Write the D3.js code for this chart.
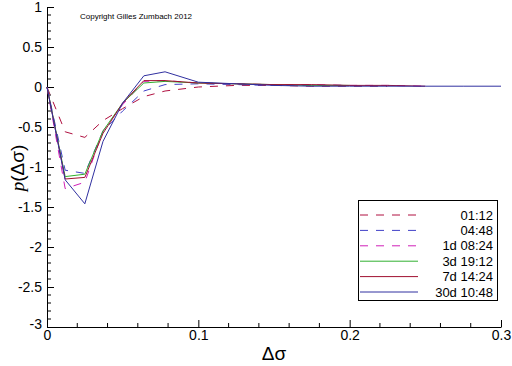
<!DOCTYPE html>
<html>
<head>
<meta charset="utf-8">
<script src="https://cdn.jsdelivr.net/npm/d3@7"></script>
<style>
body { margin: 0; background: #fff; }
text { font-family: Arial, "Liberation Sans", sans-serif; }
</style>
</head>
<body>
<div class="chart"></div>
<script>
// dsigma grid (x) shared by all series
const xs = [0, 0.012, 0.025, 0.037, 0.05, 0.064, 0.078, 0.1, 0.125, 0.15, 0.175, 0.2, 0.225, 0.25, 0.275, 0.3];

const labels = ['01:12', '04:48', '1d 08:24', '3d 19:12', '7d 14:24', '30d 10:48'];
const colors = ['#b01040', '#4040c8', '#d020b8', '#30b030', '#a01030', '#3030a0'];
const dashed = [true, true, true, false, false, false];

const v0112 = [0, -0.56, -0.63, -0.42, -0.27, -0.12, -0.05, 0.0, 0.02, 0.02, 0.01, 0.01, 0.01];
const v0448 = [0, -1.04, -1.08, -0.55, -0.3, -0.05, 0.03, 0.04, 0.03, 0.02, 0.02, 0.02];
const v1d = [0, -1.27, -1.19, -0.55, -0.22, 0.07, 0.08, 0.05, 0.04, 0.03, 0.03, 0.02, 0.02, 0.01];
const v3d = [0, -1.12, -1.09, -0.55, -0.2, 0.05, 0.07, 0.05, 0.04, 0.03, 0.02, 0.02];
const v7d = [0, -1.15, -1.13, -0.58, -0.2, 0.08, 0.08, 0.05, 0.04, 0.03, 0.03, 0.02, 0.02, 0.01];
const v30d = [0, -1.16, -1.46, -0.68, -0.2, 0.14, 0.19, 0.06, 0.04, 0.02, 0.01, 0.01, 0.01, 0.01, 0.01, 0.01];
const series = [v0112, v0448, v1d, v3d, v7d, v30d];

const width = 512, height = 366;
const svg = d3.select('.chart').append('svg')
  .attr('width', width).attr('height', height);

const x = d3.scaleLinear().domain([0, 0.3]).range([47, 501]);
const y = d3.scaleLinear().domain([-3, 1]).range([327, 7]);

// minor ticks
const xMinor = d3.range(0, 0.3001, 0.02).filter(d => Math.abs(d*10 - Math.round(d*10)) > 1e-6);
const yMinor = d3.range(-3, 1.0001, 0.1).filter(d => Math.abs(d*2 - Math.round(d*2)) > 1e-6);

svg.append('g').selectAll('line').data(xMinor).enter().append('line')
  .attr('x1', d => x(d)).attr('x2', d => x(d))
  .attr('y1', 327).attr('y2', 323)
  .attr('stroke', '#000');
svg.append('g').selectAll('line').data(yMinor).enter().append('line')
  .attr('x1', 47).attr('x2', 51)
  .attr('y1', d => y(d)).attr('y2', d => y(d))
  .attr('stroke', '#000');

const xAxis = svg.append('g')
  .attr('transform', 'translate(0,327)')
  .call(d3.axisTop(x).tickValues([0, 0.1, 0.2, 0.3]).tickFormat(d => d === 0 ? '0' : d3.format('.1f')(d)).tickSize(7).tickSizeOuter(0));
xAxis.selectAll('text').attr('y', 13).attr('dy', '0').attr('font-size', 14)
  .attr('font-family', 'Arial, Liberation Sans, sans-serif');

const yAxis = svg.append('g')
  .attr('transform', 'translate(47,0)')
  .call(d3.axisRight(y).tickValues([-3, -2.5, -2, -1.5, -1, -0.5, 0, 0.5, 1]).tickFormat(d => d3.format('')(d).replace('−', '-')).tickSize(7).tickSizeOuter(0));
yAxis.selectAll('text').attr('x', -5).attr('text-anchor', 'end').attr('font-size', 14)
  .attr('font-family', 'Arial, Liberation Sans, sans-serif');
yAxis.selectAll('.tick').filter(d => d === -3).select('text').attr('dy', '0.1em');
svg.selectAll('.domain').attr('stroke', '#000');
svg.selectAll('.tick line').attr('stroke', '#000');

const line = d3.line().x((d, i) => x(xs[i])).y(d => y(d));

svg.append('g').selectAll('path').data(series).enter().append('path')
  .attr('d', d => line(d))
  .attr('fill', 'none')
  .attr('stroke', (d, i) => colors[i])
  .attr('stroke-width', 1)
  .attr('stroke-dasharray', (d, i) => dashed[i] ? '8,8' : null);

// legend
const lg = svg.append('g');
lg.append('rect').attr('x', 358.5).attr('y', 200.5).attr('width', 139).attr('height', 100)
  .attr('fill', '#fff').attr('stroke', '#000');
labels.forEach((lab, i) => {
  const ly = 215 + i * 15.4;
  lg.append('line').attr('x1', 360).attr('x2', 418).attr('y1', ly).attr('y2', ly)
    .attr('stroke', colors[i]).attr('stroke-dasharray', dashed[i] ? '8,8' : null);
  lg.append('text').attr('x', 493).attr('y', ly).attr('dy', '0.35em')
    .attr('text-anchor', 'end').attr('font-size', 13).text(lab);
});

svg.append('text').attr('x', 80).attr('y', 19).attr('font-size', 8)
  .text('Copyright Gilles Zumbach 2012');

svg.append('text').attr('x', 274).attr('y', 360).attr('text-anchor', 'middle')
  .attr('font-size', 19).text('Δσ');

const yl = svg.append('text').attr('transform', 'translate(24,168) rotate(-90)')
  .attr('text-anchor', 'middle').attr('font-size', 19);
yl.append('tspan').attr('font-style', 'italic').attr('font-family', 'Times New Roman, Liberation Serif, serif').text('p');
yl.append('tspan').text('(Δσ)');
</script>
</body>
</html>
